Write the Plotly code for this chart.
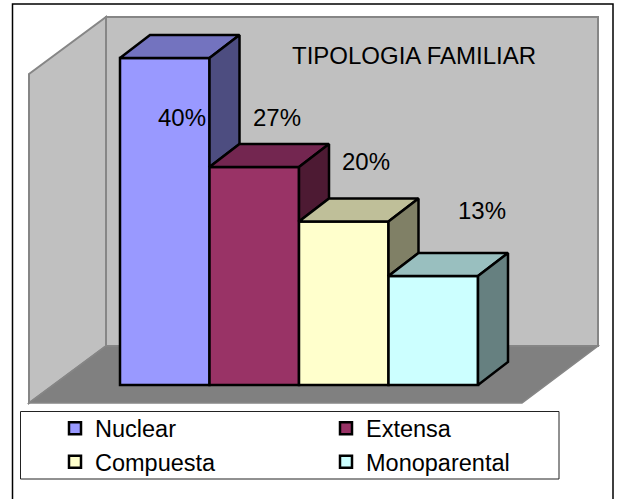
import plotly.graph_objects as go

# ---- data ----
categories = ["Nuclear", "Extensa", "Compuesta", "Monoparental"]
values = [40, 26.67, 20, 13.33]
labels = ["40%", "27%", "20%", "13%"]
title_text = "TIPOLOGIA FAMILIAR"
front_colors = ["#9999FF", "#993366", "#FFFFCC", "#CCFFFF"]
top_colors = ["#7373BF", "#732650", "#BFBF99", "#99BFBF"]
side_colors = ["#4D4D80", "#4D1A33", "#808066", "#668080"]

# ---- layout geometry ----
W, H = 618, 499
UX = 89.5      # px per category
UY = 8.175     # px per percent point
X0_PX = 120    # left edge of first bar
Y0_PX = 385    # bar baseline
DX = 30 / UX   # depth offset of bars
DY = 23 / UY
LW = 2.5
FONT = "Liberation Sans, Arial, sans-serif"
FS = 24


def ux(px):
    return (px - X0_PX) / UX - 0.5


def uy(py):
    return (Y0_PX - py) / UY


def path(pts):
    return "M" + " L".join(f"{ux(a):.4f},{uy(b):.4f}" for a, b in pts) + " Z"


fig = go.Figure()

# front faces
for i, cat in enumerate(categories):
    fig.add_trace(go.Bar(
        x=[i], y=[values[i]], width=1, name=cat,
        marker=dict(color=front_colors[i], line=dict(color="black", width=LW)),
        hoverinfo="skip"))

# top and side faces
for i, v in enumerate(values):
    nxt = values[i + 1] if i + 1 < len(values) else 0
    l, r = i - 0.5, i + 0.5
    fig.add_trace(go.Scatter(
        x=[l, r, r + DX, l + DX, l], y=[v, v, v + DY, v + DY, v],
        mode="lines", fill="toself", fillcolor=top_colors[i],
        line=dict(color="black", width=LW), showlegend=False, hoverinfo="skip"))
    fig.add_trace(go.Scatter(
        x=[r, r + DX, r + DX, r, r], y=[v, v + DY, nxt + DY, nxt, v],
        mode="lines", fill="toself", fillcolor=side_colors[i],
        line=dict(color="black", width=LW), showlegend=False, hoverinfo="skip"))

annotations = []
for txt, (px, py) in zip(labels, [(182, 117), (277, 117), (366, 161.5), (482, 210.5)]):
    annotations.append(dict(x=ux(px), y=uy(py), text=txt, showarrow=False,
                            font=dict(size=FS, color="black", family=FONT)))
annotations.append(dict(x=ux(413.5), y=uy(55), text=title_text, showarrow=False,
                        font=dict(size=FS, color="black", family=FONT)))


def wall(pts, fill, line, lw):
    return dict(type="path", xref="x", yref="y", path=path(pts), fillcolor=fill,
                line=dict(color=line, width=lw), layer="below")


shapes = [
    dict(type="rect", xref="x", yref="y", x0=ux(12.5), x1=ux(613), y0=uy(4), y1=uy(510),
         line=dict(color="black", width=1.5), fillcolor="rgba(0,0,0,0)", layer="below"),
    wall([(29, 74), (106, 17), (106, 346), (29, 403)], "#C0C0C0", "#868686", 2),
    wall([(106, 17), (598, 17), (598, 346), (106, 346)], "#C0C0C0", "#868686", 2),
    wall([(29, 403), (106, 346), (598, 346), (522, 403)], "#808080", "#868686", 1.5),
    dict(type="rect", xref="x", yref="y", x0=ux(20.5), x1=ux(559), y0=uy(411.5), y1=uy(479),
         line=dict(color="#222222", width=1), fillcolor="white", layer="below"),
]

fig.update_layout(
    width=W, height=H, margin=dict(l=0, r=0, t=0, b=0),
    paper_bgcolor="white", plot_bgcolor="white",
    barmode="overlay", annotations=annotations, shapes=shapes,
    xaxis=dict(visible=False, range=[ux(0), ux(W)], fixedrange=True),
    yaxis=dict(visible=False, range=[uy(H), uy(0)], fixedrange=True),
    font=dict(family=FONT, size=FS, color="black"),
    legend=dict(orientation="h", x=55 / W, xref="paper", y=1 - 406.5 / H, yanchor="top",
                xanchor="left", entrywidth=226, entrywidthmode="pixels",
                bgcolor="rgba(0,0,0,0)", font=dict(size=23.5, family=FONT),
                traceorder="normal"),
)

fig.write_html("out.html", config=dict(displayModeBar=False),
               post_script="document.body.style.margin='0';document.body.style.overflow='hidden';")
